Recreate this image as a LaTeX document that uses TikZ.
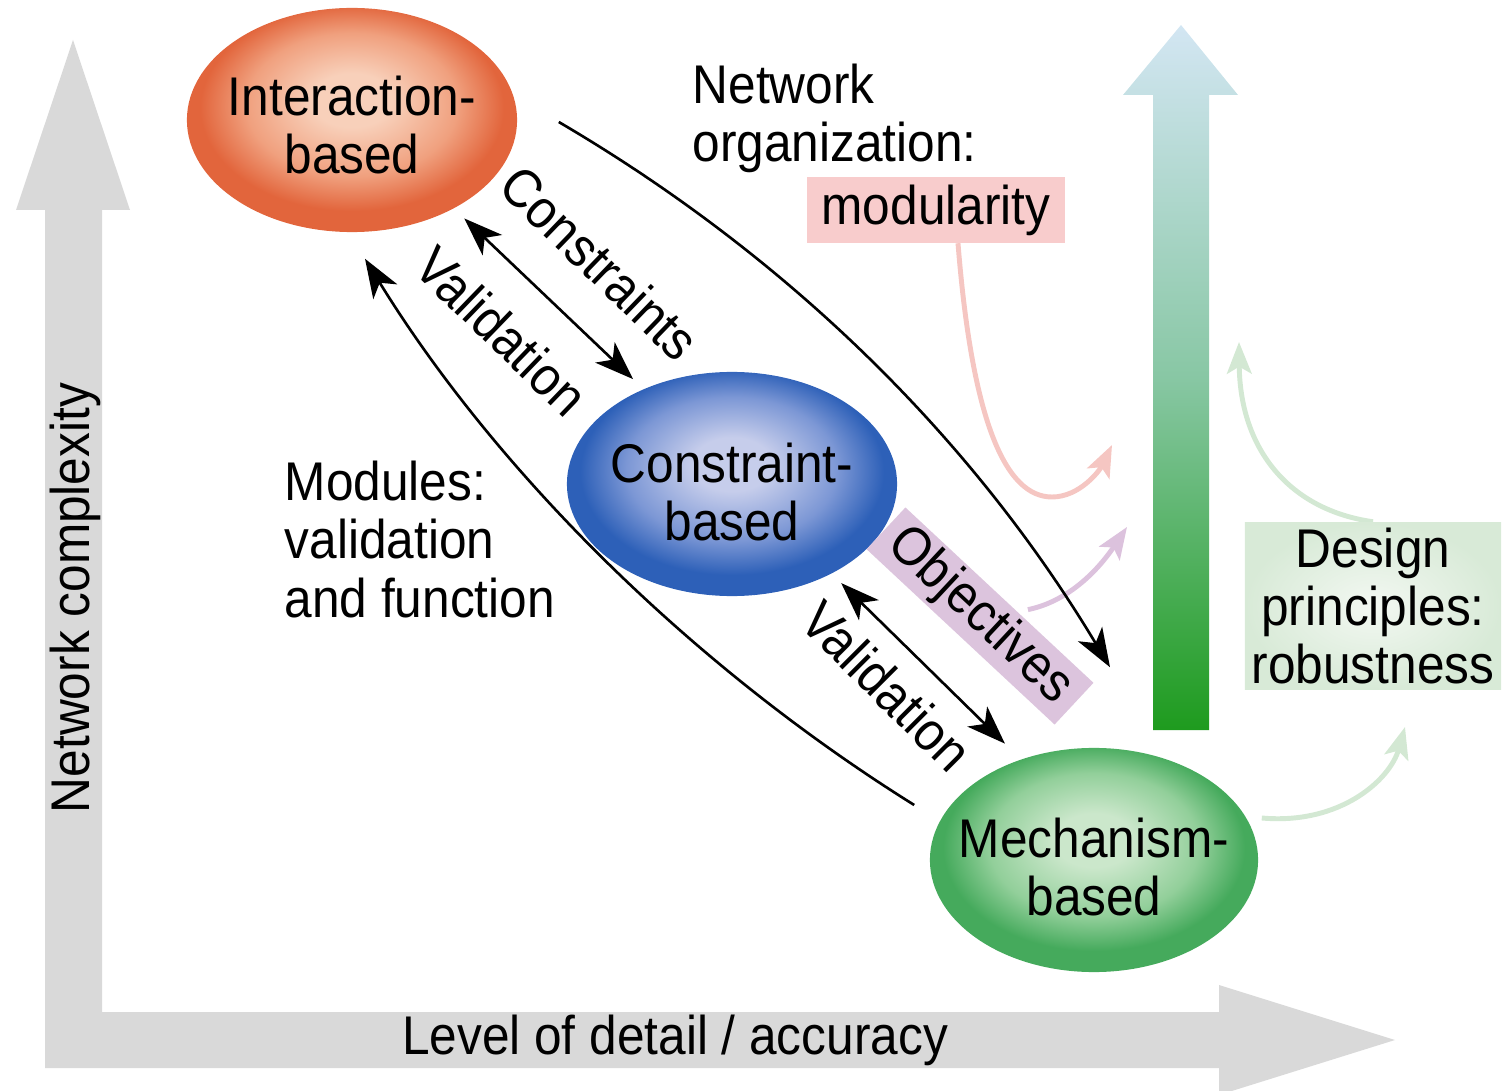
\documentclass[tikz,border=0pt]{standalone}
\usepackage{fontspec}
\setmainfont[FakeStretch=0.91]{Liberation Sans}
\usetikzlibrary{arrows.meta,shapes.geometric}
\definecolor{axisgray}{HTML}{D9D9D9}
\definecolor{ocen}{HTML}{F8D0BA}
\definecolor{omid}{HTML}{F0A07E}
\definecolor{oedge}{HTML}{E2653C}
\definecolor{ccen}{HTML}{C6CDEB}
\definecolor{cmid}{HTML}{7C97D5}
\definecolor{cedge}{HTML}{2D60B8}
\definecolor{mcen}{HTML}{CBE7CB}
\definecolor{mmid}{HTML}{92CF9A}
\definecolor{medge}{HTML}{45AA5C}
\definecolor{gtop}{HTML}{D3E6F3}
\definecolor{gmid}{HTML}{88C7A4}
\definecolor{gbot}{HTML}{1E9B1E}
\definecolor{pinkbox}{HTML}{F8CCCC}
\definecolor{purpbox}{HTML}{DCC4DD}
\definecolor{dsin}{HTML}{F3F8F2}
\definecolor{dsout}{HTML}{D8EAD7}
\definecolor{pinkline}{HTML}{F5C6C2}
\definecolor{purpline}{HTML}{DCC2DD}
\definecolor{grnline}{HTML}{D3E8D3}
\pgfdeclareradialshading{orangeball}{\pgfpoint{0bp}{5bp}}{color(0bp)=(ocen); color(6bp)=(ocen); color(16bp)=(omid); color(23bp)=(oedge); color(25bp)=(oedge); color(50bp)=(oedge)}
\pgfdeclareradialshading{blueball}{\pgfpoint{0bp}{5bp}}{color(0bp)=(ccen); color(6bp)=(ccen); color(16bp)=(cmid); color(23bp)=(cedge); color(25bp)=(cedge); color(50bp)=(cedge)}
\pgfdeclareradialshading{greenball}{\pgfpoint{0bp}{5bp}}{color(0bp)=(mcen); color(6bp)=(mcen); color(16bp)=(mmid); color(23bp)=(medge); color(25bp)=(medge); color(50bp)=(medge)}
\begin{document}
\begin{tikzpicture}[x=0.01cm,y=-0.01cm,
  every node/.style={font=\fontsize{15.5pt}{16.5pt}\selectfont, inner sep=0pt},
  ellnode/.style={ellipse, shade, minimum width=3.3cm, minimum height=2.24cm},
  blk/.style={line width=0.75pt, -{Stealth[length=11pt,width=8pt,inset=3pt]}},
  dbl/.style={line width=0.75pt, {Stealth[length=11pt,width=8pt,inset=3pt]}-{Stealth[length=11pt,width=8pt,inset=3pt]}},
  pastel/.style={line width=1.4pt, -{Stealth[length=9pt,width=7pt,inset=2pt]}},
  rotlbl/.style={rotate=-44}]
\useasboundingbox (0,0) rectangle (1502,1091);
\clip (0,0) rectangle (1502,1091);
% axes
\fill[axisgray] (45,1068) -- (45,210) -- (16,210) -- (73,40) -- (130,210) -- (102,210) -- (102,1012)
  -- (1219,1012) -- (1219,985) -- (1395,1040) -- (1219,1095) -- (1219,1068) -- cycle;
\node[rotate=90] (ylab) at (75,598) {Network complexity};
\node (xlab) at (675,1040) {Level of detail / accuracy};
% gradient arrow
\shade[top color=gtop, bottom color=gbot, middle color=gmid]
  (1153,730) -- (1153,95) -- (1123,95) -- (1181,25) -- (1238,95) -- (1209,95) -- (1209,730) -- cycle;
% ellipses
\node[ellnode, shading=orangeball] (ib) at (352,120) {};
\node[ellnode, shading=blueball] (cb) at (732,484) {};
\node[ellnode, shading=greenball, minimum width=3.28cm] (mb) at (1094,860) {};
\node[align=center] (ibt) at ([shift={(0,5)}]ib) {Interaction-\\based};
\node[align=center] (cbt) at ([shift={(0,8)}]cb) {Constraint-\\based};
\node[align=center] (mbt) at ([shift={(0,7)}]mb) {Mechanism-\\based};
\coordinate (pinkend) at (1112,445);
\coordinate (purpend) at (1127,527);
\coordinate (gonend) at (1239,342);
\coordinate (gtwoend) at (1405,727);
\node[anchor=base west, align=left] (netorg) at (692,162) {Network\\organization:};
\node[anchor=base west, align=left] (modl) at (284,617) {Modules:\\validation\\and function};
% pastel connectors (drawn before boxes)
\node[minimum width=2.57cm, minimum height=0.65cm] (mod) at (936,210) {};
\node[rotate=-43, minimum width=2.57cm, minimum height=0.57cm] (obj) at (980,616) {};
\node[minimum width=2.56cm, minimum height=1.67cm] (ds) at (1373,606) {};
\draw[pastel, draw=pinkline] ([shift={(22,0)}]mod.south) .. controls (972,420) and (1005,497) .. (1052,497)
  .. controls (1080,497) and (1100,470) .. (pinkend);
\draw[pastel, draw=purpline] ([shift={(28,15)}]obj.north) .. controls (1075,600) and (1105,560) .. (purpend);
\draw[pastel, draw=grnline] (ds.north) .. controls (1290,510) and (1240,450) .. (gonend);
\draw[pastel, draw=grnline] ([shift={(3,-42)}]mb.east) .. controls (1340,825) and (1390,780) .. (gtwoend);
% boxes
\node[fill=pinkbox, minimum width=2.57cm, minimum height=0.65cm] at (mod) {modularity};
\node[fill=purpbox, rotate=-43, minimum width=2.57cm, minimum height=0.57cm] at (obj) {Objectives};
\node[inner color=dsin, outer color=dsout, minimum width=2.56cm, minimum height=1.67cm, align=center] at (ds) {Design\\principles:\\robustness};
% black connectors
\draw[blk] ([shift={(41,2)}]ib.east) .. controls (789,257) and (973,439) .. ([shift={(16,-80)}]mb.north);
\draw[blk] ([shift={(-15,-55)}]mb.west) .. controls (690,665) and (495,470) .. ([shift={(13,26)}]ib.south);
\draw[dbl, shorten <=0.14cm, shorten >=0.14cm] (ib.-41.4) -- (cb.133.9);
\draw[dbl, shorten <=0.13cm, shorten >=0.22cm] (cb.-42.8) -- (mb.126.1);
% rotated labels
\node[rotlbl] (lcon) at (600,263) {Constraints};
\node[rotlbl] (lvalone) at (502,331) {Validation};
\node[rotate=-45] (lvaltwo) at (887,686) {Validation};
\end{tikzpicture}
\end{document}
